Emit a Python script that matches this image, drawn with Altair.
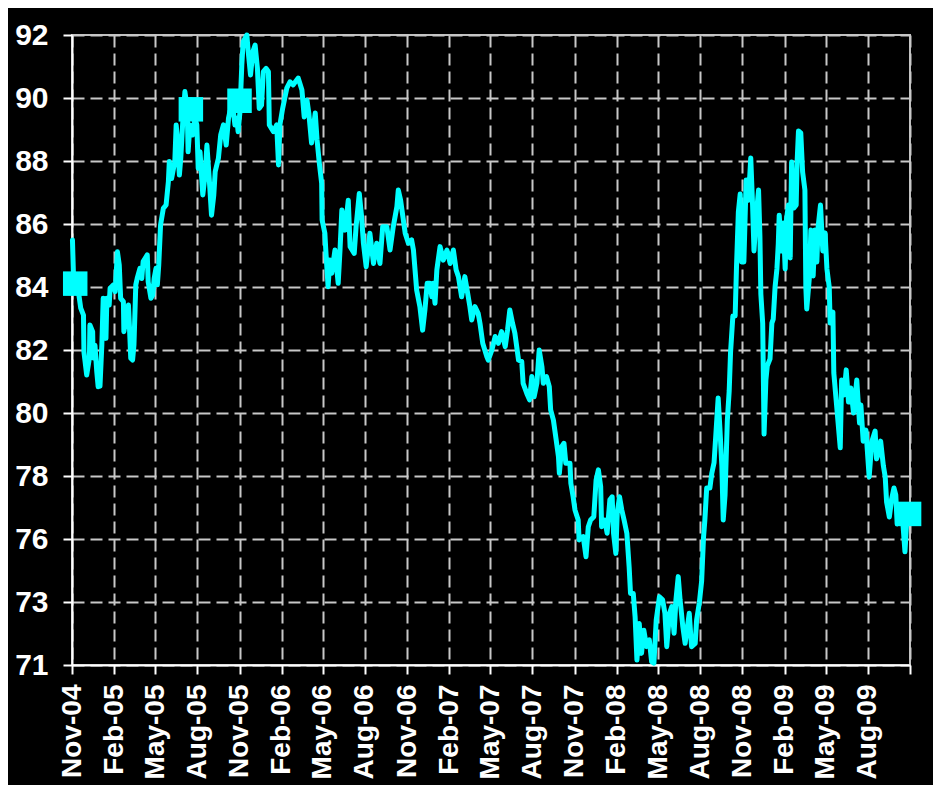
import altair as alt
import pandas as pd

START = "2004-11-01"

# day offsets from 1 Nov 2004 and index values
days = [
    1, 3, 7, 14, 19, 25, 26, 32, 38, 39,
    45, 46, 50, 54, 57, 61, 65, 68, 74, 76,
    81, 83, 90, 94, 99, 103, 106, 112, 113, 118,
    123, 125, 128, 132, 135, 139, 142, 148, 152, 155,
    164, 166, 172, 176, 179, 183, 186, 189, 193, 199,
    205, 210, 212, 217, 224, 227, 229, 234, 237, 241,
    246, 251, 253, 257, 263, 268, 272, 275, 279, 285,
    290, 294, 299, 304, 309, 312, 319, 324, 330, 336,
    341, 344, 350, 355, 359, 362, 366, 370, 373, 381,
    384, 389, 394, 399, 404, 408, 413, 417, 423, 428,
    430, 439, 446, 450, 453, 459, 468, 475, 482, 493,
    501, 506, 512, 516, 522, 530, 534, 539, 544, 545,
    551, 553, 558, 562, 566, 573, 580, 584, 588, 595,
    602, 606, 615, 619, 626, 631, 635, 641, 649, 657,
    664, 671, 677, 686, 693, 700, 708, 711, 716, 721,
    726, 733, 740, 744, 751, 758, 764, 769, 774, 780,
    784, 787, 791, 795, 802, 809, 817, 824, 831, 837,
    842, 849, 856, 861, 867, 871, 878, 885, 889, 895,
    904, 907, 915, 922, 929, 936, 944, 949, 954, 960,
    965, 973, 980, 983, 991, 997, 1002, 1007, 1013, 1018,
    1024, 1027, 1034, 1040, 1043, 1049, 1055, 1060, 1062, 1067,
    1072, 1076, 1085, 1087, 1092, 1096, 1103, 1105, 1114, 1120,
    1125, 1130, 1137, 1142, 1147, 1152, 1154, 1161, 1166, 1172,
    1177, 1180, 1185, 1188, 1193, 1198, 1203, 1209, 1214, 1217,
    1223, 1227, 1231, 1236, 1241, 1246, 1252, 1258, 1263, 1268,
    1273, 1280, 1287, 1292, 1296, 1302, 1307, 1312, 1316, 1321,
    1325, 1331, 1336, 1341, 1345, 1350, 1358, 1361, 1367, 1372,
    1376, 1379, 1383, 1390, 1394, 1399, 1403, 1408, 1412, 1416,
    1419, 1423, 1428, 1432, 1435, 1440, 1445, 1448, 1452, 1456,
    1459, 1464, 1469, 1474, 1479, 1483, 1486, 1491, 1496, 1499,
    1501, 1505, 1508, 1512, 1515, 1521, 1525, 1528, 1532, 1536,
    1539, 1541, 1546, 1550, 1554, 1557, 1561, 1565, 1568, 1573,
    1578, 1580, 1583, 1588, 1592, 1597, 1599, 1601, 1607, 1610,
    1615, 1619, 1623, 1626, 1631, 1636, 1641, 1645, 1650, 1652,
    1658, 1660, 1666, 1674, 1677, 1682, 1687, 1692, 1697, 1703,
    1710, 1716, 1719, 1724, 1730, 1737, 1743, 1750, 1753, 1758,
    1762, 1768, 1772, 1775, 1781, 1786, 1791, 1795, 1798, 1804,
    1810, 1815, 1819, 1826,
]

values = [
    85.30, 84.26, 83.87, 83.61, 83.07, 82.84, 81.64, 80.88, 81.44, 82.52,
    82.30, 81.44, 81.86, 80.99, 80.50, 80.52, 81.86, 83.39, 82.08, 83.39,
    83.17, 83.72, 83.83, 83.61, 84.91, 84.48, 83.39, 83.28, 82.30, 82.74,
    83.17, 82.52, 81.43, 81.37, 81.86, 83.83, 84.04, 84.37, 84.04, 84.59,
    84.81, 83.93, 83.39, 83.50, 84.04, 84.37, 83.83, 84.48, 85.79, 86.33,
    86.44, 87.20, 87.86, 87.31, 87.86, 89.06, 88.73, 87.42, 87.97, 89.06,
    90.15, 89.60, 88.18, 89.06, 88.73, 89.28, 89.06, 87.64, 88.18, 86.77,
    87.42, 88.40, 87.31, 86.11, 86.77, 87.53, 87.97, 88.73, 89.06, 88.40,
    89.28, 89.49, 89.71, 89.06, 89.28, 88.84, 89.49, 91.02, 91.78, 92.00,
    91.45, 90.69, 91.45, 91.67, 90.91, 89.60, 89.71, 90.80, 90.91, 90.80,
    89.06, 88.84, 89.06, 87.75, 89.06, 89.60, 90.26, 90.47, 90.37, 90.59,
    90.20, 89.32, 89.87, 89.45, 88.47, 89.45, 88.57, 87.80, 87.15, 85.95,
    85.52, 84.97, 83.77, 84.64, 84.21, 84.97, 83.88, 84.97, 86.28, 85.62,
    86.60, 85.08, 84.86, 85.73, 86.82, 86.06, 85.19, 84.42, 85.52, 84.53,
    85.19, 84.53, 85.73, 85.73, 84.97, 85.73, 86.39, 86.93, 86.60, 86.06,
    85.52, 85.19, 85.30, 84.97, 83.66, 83.12, 82.35, 83.01, 83.88, 83.88,
    83.44, 83.88, 83.23, 84.32, 85.08, 84.64, 84.97, 84.53, 84.97, 84.32,
    84.10, 83.44, 84.10, 83.66, 83.12, 82.68, 83.12, 82.90, 82.57, 81.92,
    81.48, 81.37, 81.70, 82.14, 81.92, 82.30, 81.81, 82.35, 83.01, 82.57,
    82.25, 81.37, 81.32, 80.61, 80.28, 80.07, 80.83, 80.17, 80.61, 81.70,
    81.15, 80.61, 80.83, 80.50, 79.74, 79.41, 78.76, 78.21, 77.67, 78.54,
    78.65, 78.00, 78.00, 77.34, 76.90, 76.47, 76.14, 75.49, 75.60, 74.94,
    75.92, 76.14, 76.25, 77.45, 77.78, 77.23, 75.92, 76.14, 75.71, 76.80,
    76.90, 75.71, 75.05, 76.36, 76.90, 76.47, 76.14, 75.71, 74.61, 73.74,
    73.74, 72.98, 71.56, 72.76, 71.78, 72.54, 72.00, 72.22, 71.51, 71.46,
    72.87, 73.63, 73.53, 73.09, 72.00, 73.09, 73.31, 72.44, 73.53, 74.29,
    73.53, 72.65, 72.11, 72.65, 73.09, 72.00, 72.11, 72.87, 73.44, 74.15,
    75.55, 76.14, 77.19, 77.19, 77.66, 78.01, 78.95, 80.13, 79.08, 77.91,
    76.14, 76.96, 79.41, 80.36, 81.63, 82.81, 82.81, 84.45, 86.21, 86.80,
    84.58, 84.58, 87.26, 86.60, 87.98, 86.44, 84.94, 86.11, 86.93, 85.40,
    83.53, 82.58, 78.95, 80.72, 81.18, 81.41, 82.58, 82.71, 83.76, 84.35,
    85.17, 86.11, 84.94, 85.85, 84.35, 85.98, 86.44, 84.71, 87.85, 86.34,
    86.44, 87.85, 88.86, 88.80, 87.52, 86.93, 83.76, 83.04, 84.12, 85.62,
    84.12, 85.62, 84.58, 85.75, 86.44, 84.94, 85.53, 84.35, 83.76, 82.58,
    82.94, 80.95, 79.90, 78.50, 80.72, 80.23, 81.05, 80.00, 80.46, 79.64,
    80.72, 79.31, 79.90, 78.72, 79.08, 77.55, 78.72, 79.05, 78.14, 78.36,
    78.72, 77.91, 77.55, 76.73, 76.24, 76.83, 77.19, 76.96, 76.01, 76.37,
    76.14, 75.10, 76.14, 76.37,
]

# square markers on the series
marker_days = [7, 259, 365, 1824]
marker_values = [83.87, 89.57, 89.85, 76.34]

# y-axis ticks (labels rounded to whole numbers as in the original)
y_ticks = [71.4, 73.46, 75.52, 77.58, 79.64, 81.7, 83.76, 85.82, 87.88, 89.94, 92.0]

# x-axis ticks every three months
tick_months = [
    (2004, 11), (2005, 2), (2005, 5), (2005, 8), (2005, 11),
    (2006, 2), (2006, 5), (2006, 8), (2006, 11),
    (2007, 2), (2007, 5), (2007, 8), (2007, 11),
    (2008, 2), (2008, 5), (2008, 8), (2008, 11),
    (2009, 2), (2009, 5), (2009, 8), (2009, 11),
]


def to_dates(ds):
    base = pd.Timestamp(START)
    return [(base + pd.Timedelta(days=int(d))).strftime("%Y-%m-%d") for d in ds]


df = pd.DataFrame({"date": to_dates(days), "value": values})
mk = pd.DataFrame({"date": to_dates(marker_days), "value": marker_values})

CYAN = "#00FFFF"

x_enc = alt.X(
    "date:T",
    title=None,
    scale=alt.Scale(
        type="utc",
        domain=[
            alt.DateTime(year=2004, month=11, date=1, utc=True),
            alt.DateTime(year=2009, month=11, date=1, utc=True),
        ],
    ),
    axis=alt.Axis(
        values=[alt.DateTime(year=y, month=m, date=1, utc=True) for y, m in tick_months],
        format="%b-%y",
        labelAngle=270,
        labelPadding=10,
        labelFontSize=28,
        labelFlush=False,
        labelOverlap=False,
        labelExpr="time(datum.value) > utc(2009, 9, 1) ? '' : datum.label",
    ),
)

y_enc = alt.Y(
    "value:Q",
    title=None,
    scale=alt.Scale(domain=[71.4, 92.0], nice=False, zero=False),
    axis=alt.Axis(
        values=y_ticks,
        format=".0f",
        labelPadding=15,
        labelFontSize=30,
        labelOverlap=False,
        labelFlush=False,
    ),
)

line = alt.Chart(df).mark_line(
    color=CYAN, strokeWidth=5, strokeJoin="round", strokeCap="round"
).encode(x=x_enc, y=y_enc)

squares = alt.Chart(mk).mark_square(
    color=CYAN, size=600, opacity=1, filled=True
).encode(x="date:T", y="value:Q")

chart = (
    alt.layer(line, squares)
    .properties(
        width=838,
        height=630,
        background="#000000",
        padding={"left": 64, "top": 27, "right": 23, "bottom": 120},
        autosize=alt.AutoSizeParams(type="none"),
    )
    .configure_view(stroke="#C0C0C0", strokeWidth=2, fill="#000000")
    .configure_axis(
        labelFont="Liberation Sans",
        labelFontWeight="bold",
        labelColor="#FFFFFF",
        tickColor="#FFFFFF",
        tickWidth=2,
        tickSize=9,
        domainColor="#FFFFFF",
        domainWidth=2,
        grid=True,
        gridColor="#C8C8C8",
        gridDash=[12, 6],
        gridWidth=2,
        gridOpacity=1,
    )
)

chart.save("out.html", embed_options={"renderer": "svg", "actions": False})
